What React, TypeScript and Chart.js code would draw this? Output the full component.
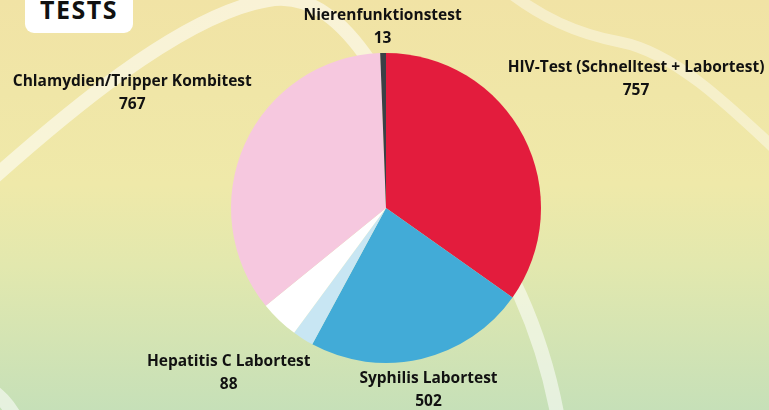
import React, { useEffect, useRef } from "react";
import { Chart, registerables } from "chart.js";

Chart.register(...registerables);

const categories = [
  "HIV-Test (Schnelltest + Labortest)",
  "Syphilis Labortest",
  "",
  "Hepatitis C Labortest",
  "Chlamydien/Tripper Kombitest",
  "Nierenfunktionstest",
];
const values = [757, 502, 48, 88, 767, 13];
const colors = ["#E31C3D", "#42ABD7", "#C8E6F3", "#FFFFFF", "#F6C8DF", "#3B4046"];

// label distance from the centre, as a multiple of the pie radius (style only)
const labelDistance = [1.816, 1.204, 0, 1.471, 1.797, 1.168];

const labelPlugin = {
  id: "outerLabels",
  afterDatasetsDraw(chart: any) {
    const meta = chart.getDatasetMeta(0);
    const ctx = chart.ctx;
    ctx.save();
    ctx.fillStyle = "#111111";
    ctx.font = "700 15.5px 'Open Sans'";
    ctx.textAlign = "center";
    ctx.textBaseline = "middle";
    meta.data.forEach((arc: any, i: number) => {
      const name = chart.data.labels[i];
      if (!name) return;
      const { x, y, startAngle, endAngle, outerRadius } = arc.getProps(
        ["x", "y", "startAngle", "endAngle", "outerRadius"],
        true
      );
      const mid = (startAngle + endAngle) / 2;
      const d = outerRadius * labelDistance[i];
      const cx = x + Math.cos(mid) * d;
      const cy = y + Math.sin(mid) * d;
      ctx.fillText(name, cx, cy - 11.5);
      ctx.fillText(String(chart.data.datasets[0].data[i]), cx, cy + 11.5);
    });
    ctx.restore();
  },
};

export default function App() {
  const ref = useRef<HTMLCanvasElement | null>(null);

  useEffect(() => {
    document.body.style.margin = "0";
    if (!ref.current) return;
    const chart = new Chart(ref.current, {
      type: "pie",
      data: {
        labels: categories,
        datasets: [
          {
            data: values,
            backgroundColor: colors,
            borderWidth: 0,
          },
        ],
      },
      options: {
        animation: false,
        responsive: true,
        maintainAspectRatio: false,
        layout: { padding: { top: 53, bottom: 47, left: 231, right: 228 } },
        plugins: {
          legend: { display: false },
          tooltip: { enabled: false },
        },
      },
      plugins: [labelPlugin],
    });
    return () => chart.destroy();
  }, []);

  return (
    <div
      style={{
        position: "fixed",
        left: 0,
        top: 0,
        width: 769,
        height: 410,
        overflow: "hidden",
        background:
          "linear-gradient(180deg, #F1E3A5 0%, #EFE9A9 45%, #E2E8AE 65%, #C6E0B8 100%)",
      }}
    >
      <svg
        width={769}
        height={410}
        style={{ position: "absolute", left: 0, top: 0 }}
      >
        <g fill="none" stroke="rgba(255,255,255,0.55)" strokeLinecap="round">
          <path
            d="M -20 190 C 60 118, 180 15, 268 0 C 312 -8, 345 25, 370 62 C 430 150, 490 230, 520 295 C 538 335, 552 380, 560 430"
            strokeWidth={14}
          />
          <path
            d="M 500 -15 C 540 18, 578 34, 620 42 C 672 52, 722 98, 795 168"
            strokeWidth={11}
            stroke="rgba(255,255,255,0.4)"
          />
          <path d="M -14 386 C -2 394, 8 403, 18 422" strokeWidth={14} />
        </g>
      </svg>
      <div
        style={{
          position: "absolute",
          left: 25,
          top: -10,
          width: 108,
          height: 43,
          background: "#FFFFFF",
          borderRadius: 9,
        }}
      />
      <div
        style={{
          position: "absolute",
          left: 25,
          top: -9,
          width: 108,
          textAlign: "center",
          fontFamily: "'Open Sans'",
          fontWeight: 700,
          fontSize: 25,
          letterSpacing: 1.5,
          color: "#111111",
          lineHeight: "36px",
        }}
      >
        TESTS
      </div>
      <div style={{ position: "absolute", left: 0, top: 0, width: 769, height: 410 }}>
        <canvas ref={ref} />
      </div>
    </div>
  );
}
